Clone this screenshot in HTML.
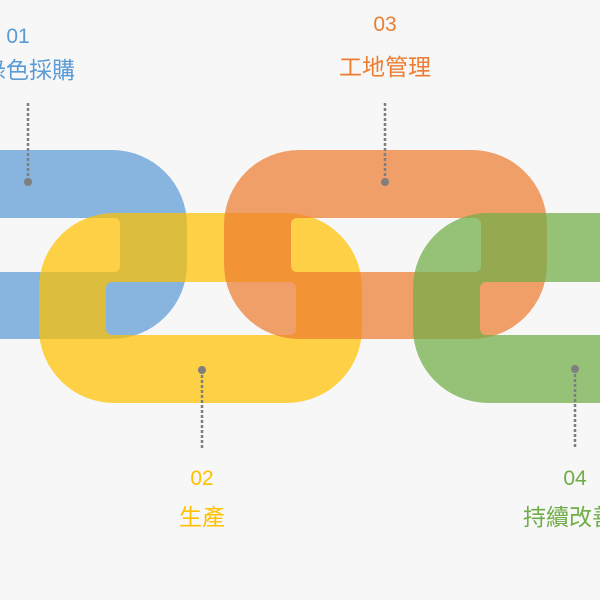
<!DOCTYPE html>
<html><head><meta charset="utf-8"><style>
html,body{margin:0;padding:0;background:#f7f7f7;width:600px;height:600px;overflow:hidden}
svg{display:block}
text{font-family:"Liberation Sans","Noto Sans CJK TC",sans-serif}
</style></head><body>
<svg width="600" height="600" viewBox="0 0 600 600">
<rect width="600" height="600" fill="#f7f7f7"/>
<g fill-rule="evenodd" fill-opacity="0.72">
<path fill="#5B9BD5" d="M-140,150 H112 A75,75 0 0 1 187,225 V264 A75,75 0 0 1 112,339 H-140 Z M-80,224 a6,6 0 0 1 6,-6 H114 a6,6 0 0 1 6,6 V266 a6,6 0 0 1 -6,6 H-74 a6,6 0 0 1 -6,-6 Z"/>
<path fill="#FFC000" d="M114,213 H287 A75,75 0 0 1 362,288 V328 A75,75 0 0 1 287,403 H114 A75,75 0 0 1 39,328 V288 A75,75 0 0 1 114,213 Z M112,282 H290 a6,6 0 0 1 6,6 V329 a6,6 0 0 1 -6,6 H112 a6,6 0 0 1 -6,-6 V288 a6,6 0 0 1 6,-6 Z"/>
<path fill="#ED7D31" d="M299,150 H472 A75,75 0 0 1 547,225 V264 A75,75 0 0 1 472,339 H299 A75,75 0 0 1 224,264 V225 A75,75 0 0 1 299,150 Z M297,218 H475 a6,6 0 0 1 6,6 V266 a6,6 0 0 1 -6,6 H297 a6,6 0 0 1 -6,-6 V224 a6,6 0 0 1 6,-6 Z"/>
<path fill="#70AD47" d="M488,213 H760 V403 H488 A75,75 0 0 1 413,328 V288 A75,75 0 0 1 488,213 Z M486,282 H700 V335 H486 a6,6 0 0 1 -6,-6 V288 a6,6 0 0 1 6,-6 Z"/>
</g>
<g stroke="#7f7f7f" stroke-width="2.5" stroke-dasharray="3,2" fill="none">
<line x1="28" y1="103" x2="28" y2="182"/>
<line x1="385" y1="103" x2="385" y2="182"/>
<line x1="202" y1="370" x2="202" y2="448"/>
<line x1="575" y1="369" x2="575" y2="448"/>
</g>
<g fill="#7f7f7f">
<circle cx="28" cy="182" r="4"/><circle cx="385" cy="182" r="4"/>
<circle cx="202" cy="370" r="4"/><circle cx="575" cy="369" r="4"/>
</g>
<g font-size="21" text-anchor="middle">
<text x="18" y="43" fill="#5B9BD5">01</text>
<text x="29" y="78" fill="#5B9BD5" font-size="23">綠色採購</text>
<text x="385" y="31" fill="#ED7D31">03</text>
<text x="385" y="75" fill="#ED7D31" font-size="23">工地管理</text>
<text x="202" y="485" fill="#FFC000">02</text>
<text x="202" y="525" fill="#FFC000" font-size="23">生產</text>
<text x="575" y="485" fill="#70AD47">04</text>
<text x="569" y="525" fill="#70AD47" font-size="23">持續改善</text>
</g>
</svg>
</body></html>
